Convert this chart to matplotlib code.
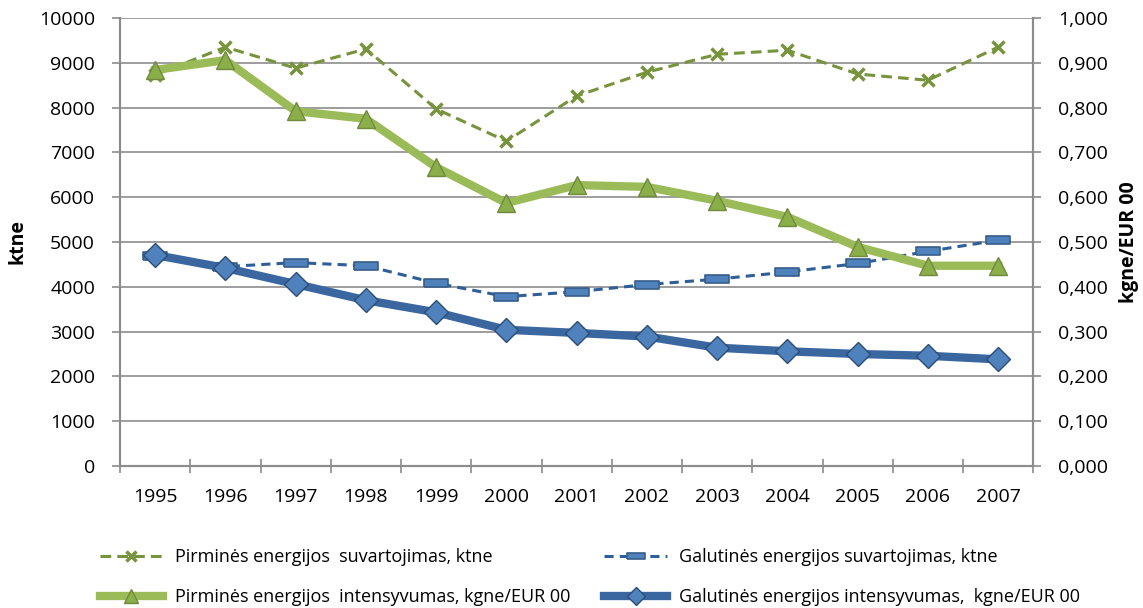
import matplotlib
matplotlib.use("Agg")
import matplotlib.pyplot as plt
from matplotlib.ticker import FuncFormatter, MultipleLocator, FixedLocator
from matplotlib.markers import MarkerStyle

plt.rcParams['font.family'] = ['Open Sans', 'DejaVu Sans']

years = ['1995', '1996', '1997', '1998', '1999', '2000', '2001', '2002', '2003', '2004', '2005', '2006', '2007']
primary_consumption = [8730, 9350, 8880, 9310, 7970, 7250, 8260, 8790, 9190, 9280, 8750, 8610, 9350]
final_consumption = [4680, 4450, 4540, 4470, 4080, 3780, 3890, 4050, 4170, 4330, 4520, 4790, 5040]
primary_intensity = [0.884, 0.906, 0.792, 0.775, 0.667, 0.587, 0.627, 0.623, 0.592, 0.556, 0.489, 0.447, 0.447]
final_intensity = [0.471, 0.442, 0.406, 0.370, 0.343, 0.304, 0.297, 0.289, 0.264, 0.256, 0.250, 0.246, 0.238]

labels = ['Pirminės energijos  suvartojimas, ktne',
          'Galutinės energijos suvartojimas, ktne',
          'Pirminės energijos  intensyvumas, kgne/EUR 00',
          'Galutinės energijos intensyvumas,  kgne/EUR 00']

fig = plt.figure(figsize=(11.43, 6.08), dpi=100)
ax = fig.add_axes([0.105, 0.2336, 0.799, 0.7368])
ax2 = ax.twinx()

x = list(range(len(years)))
grid_c = '#8c8c8c'

rect = MarkerStyle([(-1.6, -0.6), (1.6, -0.6), (1.6, 0.6), (-1.6, 0.6), (-1.6, -0.6)])

l1, = ax.plot(x, primary_consumption, linestyle=(0, (3.5, 2)), color='#77933C', lw=2.2,
              marker='x', markersize=9, markeredgewidth=2.5, markeredgecolor='#77933C', zorder=3)
l2, = ax.plot(x, final_consumption, linestyle=(0, (3, 2)), color='#2F5F98', lw=2.2,
              marker=rect, markersize=17, markerfacecolor='#4F81BD', markeredgecolor='#385D8A',
              markeredgewidth=1.2, zorder=3)

l3, = ax2.plot(x, primary_intensity, color='#9BBB59', lw=6,
               marker='^', markersize=13, markerfacecolor='#8AAE48', markeredgecolor='#71893F',
               markeredgewidth=1, zorder=4, solid_joinstyle='round')
l4, = ax2.plot(x, final_intensity, color='#3A67A0', lw=6,
               marker='D', markersize=12.5, markerfacecolor='#4F81BD', markeredgecolor='#2C4D75',
               markeredgewidth=1, zorder=4, solid_joinstyle='round')

ax.set_xlim(-0.5, len(years) - 0.5)
ax.set_ylim(0, 10000)
ax2.set_ylim(0, 1.0)
ax.yaxis.set_major_locator(MultipleLocator(1000))
ax2.yaxis.set_major_locator(MultipleLocator(0.1))
ax2.yaxis.set_major_formatter(FuncFormatter(lambda v, p: f"{v:.3f}".replace('.', ',')))

ax.set_xticks(x)
ax.set_xticklabels(years)
ax.xaxis.set_minor_locator(FixedLocator([i - 0.5 for i in range(len(years) + 1)]))
ax.grid(axis='y', color=grid_c, lw=1.2)
ax.set_axisbelow(True)

for a in (ax, ax2):
    a.spines['top'].set_visible(False)
    for s in ('left', 'right', 'bottom'):
        a.spines[s].set_color(grid_c)
        a.spines[s].set_linewidth(1.5)
    a.tick_params(axis='y', colors=grid_c, labelcolor='black', labelsize=14, length=6,
                  width=1.2, pad=12)
ax.tick_params(axis='x', which='major', length=0, labelsize=14, pad=16)
ax.tick_params(axis='x', which='minor', direction='inout', length=10, width=1.2, color=grid_c)

ax.set_ylabel('ktne', fontsize=14, fontweight='bold', labelpad=8)
ax2.set_ylabel('kgne/EUR 00', fontsize=14, fontweight='bold', labelpad=8)

fig.legend([l1, l3, l2, l4], [labels[0], labels[2], labels[1], labels[3]],
           ncol=2, loc='upper left', bbox_to_anchor=(0.073, 0.125), frameon=False,
           fontsize=13, handlelength=3.5, columnspacing=1.9, labelspacing=1.2,
           handletextpad=0.65, markerscale=0.75)

fig.savefig('out.png', dpi=100)
